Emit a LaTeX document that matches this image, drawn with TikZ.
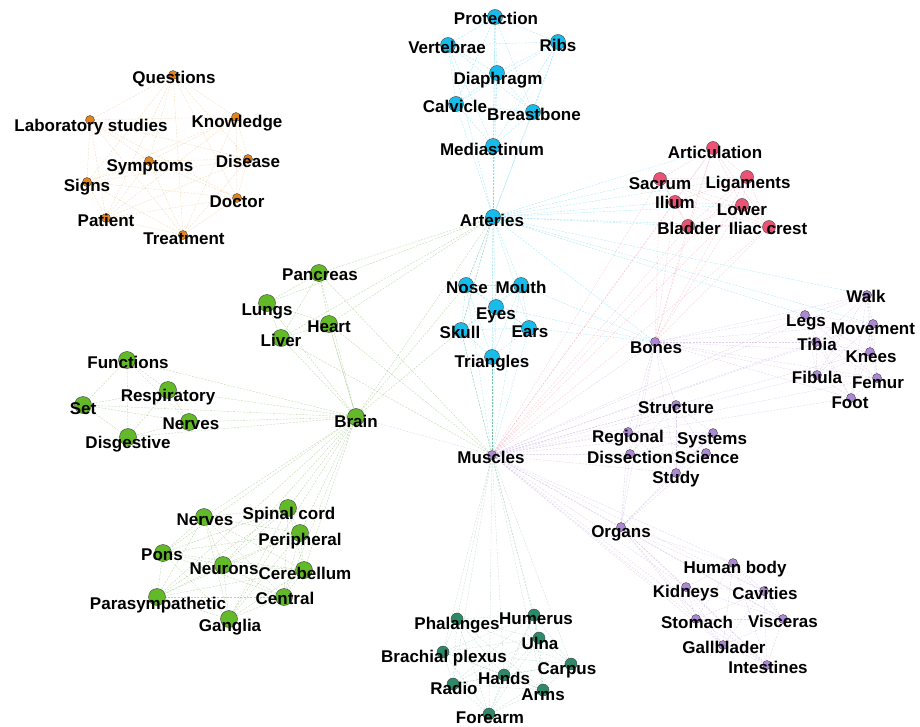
\documentclass[tikz,border=0pt]{standalone}
\usepackage{fontspec}
\setmainfont{Liberation Sans}
\usetikzlibrary{backgrounds}
\definecolor{corange}{RGB}{226,132,26}
\definecolor{cblue}{RGB}{24,188,234}
\definecolor{cpink}{RGB}{236,82,118}
\definecolor{cpurple}{RGB}{172,136,212}
\definecolor{cgreen}{RGB}{98,186,40}
\definecolor{cteal}{RGB}{44,138,104}
\newcommand\cliq[2]{\foreach \a [count=\i] in {#2} {\foreach \b [count=\j] in {#2} {\ifnum\j>\i \draw[#1] (\a) -- (\b);\fi}}}

\begin{document}
\begin{tikzpicture}[x=1pt, y=-1pt,
  vtx/.style={circle, draw=black!75, line width=0.4pt, inner sep=0pt},
  ovtx/.style={vtx, fill=corange, minimum size=9pt},
  bvtx/.style={vtx, fill=cblue, minimum size=15pt},
  pvtx/.style={vtx, fill=cpink, minimum size=13pt},
  uvtx/.style={vtx, fill=cpurple, minimum size=9pt},
  gvtx/.style={vtx, fill=cgreen, minimum size=17pt},
  tvtx/.style={vtx, fill=cteal, minimum size=12pt},
  lbl/.style={font=\bfseries\fontsize{17}{20}\selectfont, text=black, inner sep=0pt, text height=12pt, text depth=0pt},
  lnk/.style={line width=0.35pt, dash pattern=on 2pt off 1.3pt, opacity=0.4},
  olnk/.style={lnk, draw=corange!80},
  blnk/.style={lnk, draw=cblue},
  plnk/.style={lnk, draw=cpink, opacity=0.3},
  ulnk/.style={lnk, draw=cpurple},
  glnk/.style={lnk, draw=cgreen!80!black},
  tlnk/.style={lnk, draw=cteal!70}]
\useasboundingbox (0,0) rectangle (920,727);

% consultation cluster
\node[ovtx] (questions) at (173,75) {};  \node[lbl] (questions-t) at (174,78) {Questions};
\node[ovtx] (labstud) at (90,120) {};    \node[lbl] (labstud-t) at (91,126) {Laboratory studies};
\node[ovtx] (knowl) at (236,117) {};     \node[lbl] (knowl-t) at (237,122) {Knowledge};
\node[ovtx] (symp) at (149,161) {};      \node[lbl] (symp-t) at (150,166) {Symptoms};
\node[ovtx] (disease) at (248,159) {};   \node[lbl] (disease-t) at (248,162) {Disease};
\node[ovtx] (signs) at (87,182) {};      \node[lbl] (signs-t) at (87,186) {Signs};
\node[ovtx] (doctor) at (237,198) {};    \node[lbl] (doctor-t) at (237,202) {Doctor};
\node[ovtx] (patient) at (106,218) {};   \node[lbl] (patient-t) at (106,221) {Patient};
\node[ovtx] (treat) at (183,235) {};     \node[lbl] (treat-t) at (184,238) {Treatment};

% thorax and face
\node[bvtx] (prot) at (495,17) {};       \node[lbl] (prot-t) at (496,19) {Protection};
\node[bvtx] (vert) at (448,45) {};       \node[lbl] (vert-t) at (447,48) {Vertebrae};
\node[bvtx] (ribs) at (558,42) {};       \node[lbl] (ribs-t) at (558,46) {Ribs};
\node[bvtx] (diaph) at (497,73) {};      \node[lbl] (diaph-t) at (498,79) {Diaphragm};
\node[bvtx] (calv) at (456,104) {};      \node[lbl] (calv-t) at (455,107) {Calvicle};
\node[bvtx] (breast) at (533,112) {};    \node[lbl] (breast-t) at (534,115) {Breastbone};
\node[bvtx] (medi) at (493,146) {};      \node[lbl] (medi-t) at (492,150) {Mediastinum};
\node[bvtx] (arter) at (493,217) {};     \node[lbl] (arter-t) at (492,221) {Arteries};
\node[bvtx] (nose) at (466,285) {};      \node[lbl] (nose-t) at (467,287) {Nose};
\node[bvtx] (mouth) at (521,285) {};     \node[lbl] (mouth-t) at (521,287) {Mouth};
\node[bvtx] (eyes) at (496,307) {};      \node[lbl] (eyes-t) at (496,313) {Eyes};
\node[bvtx] (skull) at (461,330) {};     \node[lbl] (skull-t) at (460,332) {Skull};
\node[bvtx] (ears) at (529,328) {};      \node[lbl] (ears-t) at (530,331) {Ears};
\node[bvtx] (triang) at (492,357) {};    \node[lbl] (triang-t) at (492,361) {Triangles};

% pelvis
\node[pvtx] (artic) at (713,148) {};     \node[lbl] (artic-t) at (715,153) {Articulation};
\node[pvtx] (sacrum) at (660,179) {};    \node[lbl] (sacrum-t) at (660,184) {Sacrum};
\node[pvtx] (ligam) at (747,177) {};     \node[lbl] (ligam-t) at (748,183) {Ligaments};
\node[pvtx] (ilium) at (675,202) {};     \node[lbl] (ilium-t) at (675,203) {Ilium};
\node[pvtx] (lower) at (742,205) {};     \node[lbl] (lower-t) at (742,210) {Lower};
\node[pvtx] (bladder) at (688,226) {};   \node[lbl] (bladder-t) at (689,229) {Bladder};
\node[pvtx] (iliac) at (769,227) {};     \node[lbl] (iliac-t) at (768,229) {Iliac crest};

% legs, study and organs
\node[uvtx] (walk) at (867,295) {};      \node[lbl] (walk-t) at (866,296) {Walk};
\node[uvtx] (legs) at (805,315) {};      \node[lbl] (legs-t) at (806,320) {Legs};
\node[uvtx] (movem) at (873,324) {};     \node[lbl] (movem-t) at (873,328) {Movement};
\node[uvtx] (tibia) at (816,342) {};     \node[lbl] (tibia-t) at (817,344) {Tibia};
\node[uvtx] (knees) at (870,352) {};     \node[lbl] (knees-t) at (871,356) {Knees};
\node[uvtx] (fibula) at (817,375) {};    \node[lbl] (fibula-t) at (817,377) {Fibula};
\node[uvtx] (femur) at (877,378) {};     \node[lbl] (femur-t) at (878,382) {Femur};
\node[uvtx] (foot) at (851,398) {};      \node[lbl] (foot-t) at (850,402) {Foot};
\node[uvtx] (bones) at (655,342) {};     \node[lbl] (bones-t) at (656,347) {Bones};
\node[uvtx] (struct) at (676,405) {};    \node[lbl] (struct-t) at (676,407) {Structure};
\node[uvtx] (region) at (628,432) {};    \node[lbl] (region-t) at (628,436) {Regional};
\node[uvtx] (systems) at (713,433) {};   \node[lbl] (systems-t) at (712,438) {Systems};
\node[uvtx] (dissect) at (630,454) {};   \node[lbl] (dissect-t) at (630,457) {Dissection};
\node[uvtx] (science) at (706,453) {};   \node[lbl] (science-t) at (707,457) {Science};
\node[uvtx] (study) at (676,473) {};     \node[lbl] (study-t) at (676,477) {Study};
\node[uvtx] (muscles) at (492,455) {};   \node[lbl] (muscles-t) at (491,457) {Muscles};
\node[uvtx] (organs) at (621,527) {};    \node[lbl] (organs-t) at (621,531) {Organs};
\node[uvtx] (human) at (733,563) {};     \node[lbl] (human-t) at (735,567) {Human body};
\node[uvtx] (kidneys) at (686,587) {};   \node[lbl] (kidneys-t) at (686,591) {Kidneys};
\node[uvtx] (cavit) at (764,591) {};     \node[lbl] (cavit-t) at (765,593) {Cavities};
\node[uvtx] (stomach) at (696,619) {};   \node[lbl] (stomach-t) at (697,622) {Stomach};
\node[uvtx] (viscer) at (783,619) {};    \node[lbl] (viscer-t) at (783,621) {Visceras};
\node[uvtx] (gallbl) at (723,645) {};    \node[lbl] (gallbl-t) at (724,647) {Gallblader};
\node[uvtx] (intest) at (767,665) {};    \node[lbl] (intest-t) at (768,667) {Intestines};

% brain, nerves and inner organs
\node[gvtx] (pancr) at (319,273) {};     \node[lbl] (pancr-t) at (320,274) {Pancreas};
\node[gvtx] (lungs) at (267,303) {};     \node[lbl] (lungs-t) at (267,309) {Lungs};
\node[gvtx] (heart) at (329,324) {};     \node[lbl] (heart-t) at (329,326) {Heart};
\node[gvtx] (liver) at (281,338) {};     \node[lbl] (liver-t) at (281,340) {Liver};
\node[gvtx] (funct) at (127,360) {};     \node[lbl] (funct-t) at (128,362) {Functions};
\node[gvtx] (resp) at (168,390) {};      \node[lbl] (resp-t) at (168,395) {Respiratory};
\node[gvtx] (set) at (83,405) {};        \node[lbl] (set-t) at (83,408) {Set};
\node[gvtx] (nervesa) at (189,422) {};   \node[lbl] (nervesa-t) at (191,423) {Nerves};
\node[gvtx] (digest) at (128,437) {};    \node[lbl] (digest-t) at (128,442) {Disgestive};
\node[gvtx] (brain) at (356,417) {};     \node[lbl] (brain-t) at (356,421) {Brain};
\node[gvtx] (nervesb) at (204,517) {};   \node[lbl] (nervesb-t) at (205,519) {Nerves};
\node[gvtx] (spinal) at (288,508) {};    \node[lbl] (spinal-t) at (289,513) {Spinal cord};
\node[gvtx] (periph) at (300,533) {};    \node[lbl] (periph-t) at (300,539) {Peripheral};
\node[gvtx] (pons) at (163,553) {};      \node[lbl] (pons-t) at (162,554) {Pons};
\node[gvtx] (neurons) at (223,565) {};   \node[lbl] (neurons-t) at (224,568) {Neurons};
\node[gvtx] (cereb) at (304,570) {};     \node[lbl] (cereb-t) at (305,573) {Cerebellum};
\node[gvtx] (central) at (284,597) {};   \node[lbl] (central-t) at (285,598) {Central};
\node[gvtx] (parasym) at (157,597) {};   \node[lbl] (parasym-t) at (158,603) {Parasympathetic};
\node[gvtx] (gangl) at (229,619) {};     \node[lbl] (gangl-t) at (230,625) {Ganglia};

% upper limb
\node[tvtx] (phal) at (457,619) {};      \node[lbl] (phal-t) at (457,623) {Phalanges};
\node[tvtx] (humer) at (534,615) {};     \node[lbl] (humer-t) at (536,618) {Humerus};
\node[tvtx] (ulna) at (539,638) {};      \node[lbl] (ulna-t) at (540,643) {Ulna};
\node[tvtx] (brach) at (443,652) {};     \node[lbl] (brach-t) at (444,656) {Brachial plexus};
\node[tvtx] (carpus) at (571,664) {};    \node[lbl] (carpus-t) at (567,668) {Carpus};
\node[tvtx] (hands) at (504,675) {};     \node[lbl] (hands-t) at (504,678) {Hands};
\node[tvtx] (radio) at (453,684) {};     \node[lbl] (radio-t) at (454,688) {Radio};
\node[tvtx] (arms) at (543,690) {};      \node[lbl] (arms-t) at (543,694) {Arms};
\node[tvtx] (forearm) at (489,714) {};   \node[lbl] (forearm-t) at (490,717) {Forearm};

\begin{scope}[on background layer]
\cliq{olnk}{questions,labstud,knowl,symp,disease,signs,doctor,patient,treat}
\cliq{blnk}{prot,vert,ribs,diaph,calv,breast,medi,arter}
\cliq{blnk}{nose,mouth,eyes,skull,ears,triang}
\cliq{plnk}{artic,sacrum,ligam,ilium,lower,bladder,iliac}
\cliq{ulnk}{walk,legs,movem,tibia,knees,fibula,femur,foot}
\cliq{ulnk}{struct,region,systems,dissect,science,study}
\cliq{ulnk}{organs,human,kidneys,cavit,stomach,viscer,gallbl,intest}
\cliq{glnk}{pancr,lungs,heart,liver,brain}
\cliq{glnk}{funct,resp,set,nervesa,digest}
\cliq{glnk}{nervesb,spinal,periph,pons,neurons,cereb,central,parasym,gangl}
\cliq{tlnk}{phal,humer,ulna,brach,carpus,hands,radio,arms,forearm}
\foreach \b in {funct,resp,set,nervesa,digest,nervesb,spinal,periph,pons,neurons,cereb,central,parasym,gangl}
  \draw[glnk] (brain) -- (\b);
\foreach \b in {pancr,lungs,heart,liver,skull,nose,brain}
  \draw[glnk] (arter) -- (\b);
\foreach \b in {artic,sacrum,ligam,ilium,lower,bladder,iliac,walk,legs,movem}
  \draw[blnk] (arter) -- (\b);
\foreach \b in {nose,mouth,eyes,skull,ears,triang,muscles,bones}
  \draw[blnk] (arter) -- (\b);
\foreach \b in {nose,mouth,eyes,skull,ears,triang}
  \draw[blnk] (muscles) -- (\b);
\foreach \b in {mouth,ears,eyes}
  \draw[blnk] (bones) -- (\b);
\foreach \b in {artic,sacrum,ligam,ilium,lower,bladder,iliac}
  {\draw[plnk] (muscles) -- (\b); \draw[plnk] (bones) -- (\b);}
\foreach \b in {walk,legs,movem,tibia,knees,fibula,femur,foot}
  {\draw[ulnk] (bones) -- (\b); \draw[ulnk] (muscles) -- (\b);}
\foreach \b in {struct,region,systems,dissect,science,study,organs,bones,brain}
  \draw[ulnk] (muscles) -- (\b);
\foreach \b in {struct,region,dissect,study,organs}
  \draw[ulnk] (bones) -- (\b);
\foreach \b in {region,dissect,study,science,systems}
  \draw[ulnk] (organs) -- (\b);
\foreach \b in {human,kidneys,cavit,stomach,viscer,gallbl,intest}
  \draw[ulnk] (muscles) -- (\b);
\foreach \b in {phal,humer,ulna,brach,carpus,hands,radio,arms,forearm}
  \draw[tlnk] (muscles) -- (\b);
\foreach \b in {pancr,heart,liver,skull,triang}
  \draw[glnk] (muscles) -- (\b);
\foreach \b in {heart,skull,nose}
  \draw[glnk] (brain) -- (\b);
\end{scope}
\end{tikzpicture}
\end{document}
